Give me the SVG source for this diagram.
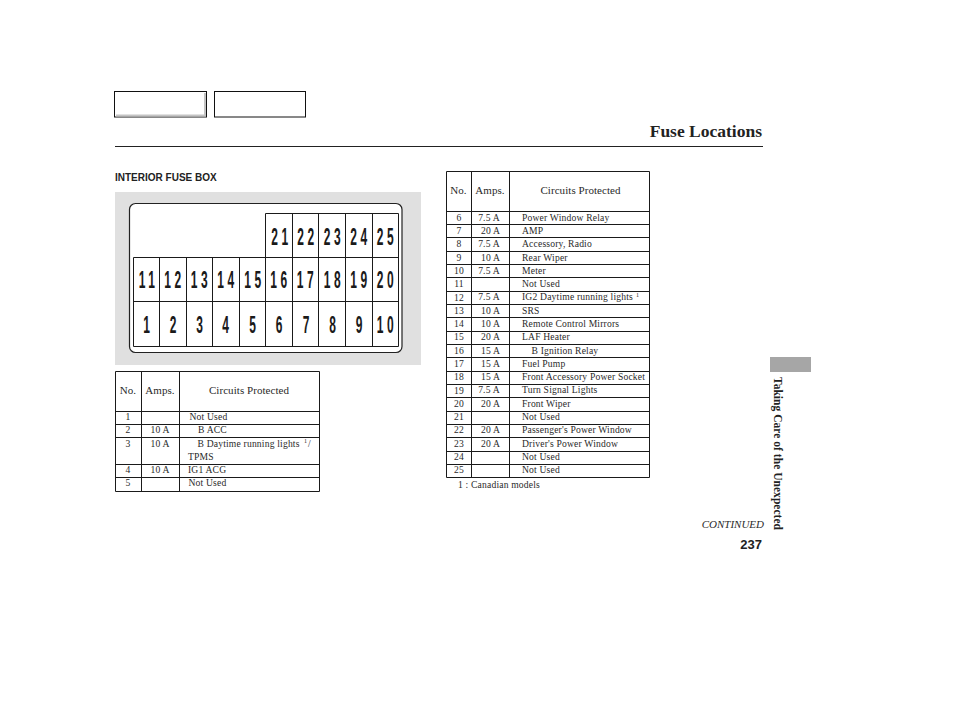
<svg xmlns="http://www.w3.org/2000/svg" width="954" height="710" viewBox="0 0 954 710">
<style>
text{font-family:"Liberation Serif",serif;fill:#2a2a2a}
.c{font-size:9.6px;letter-spacing:.18px}
.m{text-anchor:middle}
.h{font-size:11px;letter-spacing:.05px}
.s{font-size:6px}
.g{fill:none;stroke:#1a1a1a;stroke-width:1}
.d{font-family:"Liberation Sans",sans-serif;font-size:24px;font-weight:bold;text-anchor:middle;fill:#1a1a1a}
.w{letter-spacing:7px}
</style>
<rect width="954" height="710" fill="#fff"/>
<g id="tabs">
<rect x="114.500" y="91.500" width="92" height="25.500" fill="#fff" stroke="#111"/>
<path d="M205 93V115.500H116" fill="none" stroke="#c4c4c4" stroke-width="2"/>
<rect x="214.500" y="91.500" width="91" height="25.500" fill="#fff" stroke="#111"/>
</g>
<g id="header">
<text x="762" y="136.500" text-anchor="end" font-size="17.500" font-weight="bold" style="fill:#222">Fuse Locations</text>
<line x1="115" y1="146.500" x2="763" y2="146.500" stroke="#222"/>
<text x="115" y="181" font-size="10" font-weight="bold" style="font-family:'Liberation Sans',sans-serif;fill:#222">INTERIOR FUSE BOX</text>
</g>
<g id="fuse-box">
<rect x="115" y="192" width="306" height="173" fill="#e0e0e0"/>
<rect x="129.500" y="203.500" width="272.500" height="149" rx="6" fill="#fff" stroke="#222" stroke-width="1.200"/>
<path class="g" d="M133.500 257.500H398.500M133.500 301.500H398.500M133.500 346.500H398.500M265.500 213.500H398.500M133.500 257.500V346.500M159.500 257.500V346.500M186.500 257.500V346.500M212.500 257.500V346.500M239.500 257.500V346.500M265.500 213.500V346.500M292.500 213.500V346.500M318.500 213.500V346.500M345.500 213.500V346.500M372.500 213.500V346.500M398.500 213.500V346.500"/>
<g id="fuse-labels">
<text class="d w" transform="translate(281.500,244.500) scale(.5,1)">21</text>
<text class="d w" transform="translate(307.500,244.500) scale(.5,1)">22</text>
<text class="d w" transform="translate(334,244.500) scale(.5,1)">23</text>
<text class="d w" transform="translate(360.500,244.500) scale(.5,1)">24</text>
<text class="d w" transform="translate(387,244.500) scale(.5,1)">25</text>
<text class="d w" transform="translate(148.500,288) scale(.5,1)">11</text>
<text class="d w" transform="translate(174.500,288) scale(.5,1)">12</text>
<text class="d w" transform="translate(201,288) scale(.5,1)">13</text>
<text class="d w" transform="translate(227.500,288) scale(.5,1)">14</text>
<text class="d w" transform="translate(254.500,288) scale(.5,1)">15</text>
<text class="d w" transform="translate(280.500,288) scale(.5,1)">16</text>
<text class="d w" transform="translate(307,288) scale(.5,1)">17</text>
<text class="d w" transform="translate(334,288) scale(.5,1)">18</text>
<text class="d w" transform="translate(360.500,288) scale(.5,1)">19</text>
<text class="d w" transform="translate(387,288) scale(.5,1)">20</text>
<text class="d" transform="translate(146.500,332.500) scale(.5,1)">1</text>
<text class="d" transform="translate(173,332.500) scale(.5,1)">2</text>
<text class="d" transform="translate(199.500,332.500) scale(.5,1)">3</text>
<text class="d" transform="translate(225.500,332.500) scale(.5,1)">4</text>
<text class="d" transform="translate(252.500,332.500) scale(.5,1)">5</text>
<text class="d" transform="translate(279,332.500) scale(.5,1)">6</text>
<text class="d" transform="translate(306,332.500) scale(.5,1)">7</text>
<text class="d" transform="translate(332.500,332.500) scale(.5,1)">8</text>
<text class="d" transform="translate(359,332.500) scale(.5,1)">9</text>
<text class="d w" transform="translate(387,332.500) scale(.5,1)">10</text>
</g>
</g>
<g id="table-1">
<path class="g" d="M115.500 371.500H319.500V491.500H115.500ZM115.500 411.500H319.500M115.500 424.500H319.500M115.500 437.500H319.500M115.500 464.500H319.500M115.500 477.500H319.500M141.500 371.500V491.500M179.500 371.500V491.500"/>
<text class="h m" x="128" y="394">No.</text>
<text class="h m" x="160" y="394">Amps.</text>
<text class="h m" x="249" y="394">Circuits Protected</text>
<text class="c m" x="128" y="420">1</text><text class="c" x="189.500" y="420">Not Used</text>
<text class="c m" x="128" y="433">2</text><text class="c m" x="160" y="433">10 A</text><text class="c" x="198" y="433">B ACC</text>
<text class="c m" x="128" y="446.500">3</text><text class="c m" x="160" y="446.500">10 A</text><text class="c" x="197.500" y="447">B Daytime running lights</text><text class="s" x="304" y="443">1</text><text class="c" x="308" y="447">/</text>
<text class="c" x="188" y="460">TPMS</text>
<text class="c m" x="128" y="473">4</text><text class="c m" x="160" y="473">10 A</text><text class="c" x="188" y="473">IG1 ACG</text>
<text class="c m" x="128" y="486">5</text><text class="c" x="188.500" y="486">Not Used</text>
</g>
<g id="table-2">
<path class="g" d="M446.500 171.500H649.500V477.500H446.500ZM446.500 211.500H649.500M446.500 224.500H649.500M446.500 237.500H649.500M446.500 251.500H649.500M446.500 264.500H649.500M446.500 277.500H649.500M446.500 291.500H649.500M446.500 304.500H649.500M446.500 317.500H649.500M446.500 331.500H649.500M446.500 344.500H649.500M446.500 357.500H649.500M446.500 371.500H649.500M446.500 384.500H649.500M446.500 397.500H649.500M446.500 411.500H649.500M446.500 424.500H649.500M446.500 437.500H649.500M446.500 451.500H649.500M446.500 464.500H649.500M471.500 171.500V477.500M509.500 171.500V477.500"/>
<text class="h m" x="458.500" y="194">No.</text>
<text class="h m" x="490" y="194">Amps.</text>
<text class="h m" x="580.500" y="194">Circuits Protected</text>
<text class="c m" x="459" y="221">6</text><text class="c m" x="489" y="220.500">7.5 A</text><text class="c" x="522" y="221">Power Window Relay</text>
<text class="c m" x="459" y="234">7</text><text class="c m" x="490.500" y="234">20 A</text><text class="c" x="522" y="234">AMP</text>
<text class="c m" x="459" y="247">8</text><text class="c m" x="489" y="247">7.5 A</text><text class="c" x="522" y="247">Accessory, Radio</text>
<text class="c m" x="459" y="261">9</text><text class="c m" x="490.500" y="261">10 A</text><text class="c" x="522" y="261">Rear Wiper</text>
<text class="c m" x="459" y="274">10</text><text class="c m" x="489" y="274">7.5 A</text><text class="c" x="522" y="274">Meter</text>
<text class="c m" x="459" y="287">11</text><text class="c" x="522" y="287">Not Used</text>
<text class="c m" x="459" y="301">12</text><text class="c m" x="489" y="300">7.5 A</text><text class="c" x="522" y="300">IG2 Daytime running lights</text><text class="s" x="636" y="297">1</text>
<text class="c m" x="459" y="314">13</text><text class="c m" x="490.500" y="314">10 A</text><text class="c" x="522" y="314">SRS</text>
<text class="c m" x="459" y="327">14</text><text class="c m" x="490.500" y="327">10 A</text><text class="c" x="522" y="327">Remote Control Mirrors</text>
<text class="c m" x="459" y="340">15</text><text class="c m" x="490.500" y="340">20 A</text><text class="c" x="522" y="340">LAF Heater</text>
<text class="c m" x="459" y="354">16</text><text class="c m" x="490.500" y="354">15 A</text><text class="c" x="531.500" y="354">B Ignition Relay</text>
<text class="c m" x="459" y="367">17</text><text class="c m" x="490.500" y="367">15 A</text><text class="c" x="522" y="367">Fuel Pump</text>
<text class="c m" x="459" y="380">18</text><text class="c m" x="490.500" y="380">15 A</text><text class="c" x="522" y="380">Front Accessory Power Socket</text>
<text class="c m" x="459" y="394">19</text><text class="c m" x="489" y="393">7.5 A</text><text class="c" x="522" y="393">Turn Signal Lights</text>
<text class="c m" x="459" y="407">20</text><text class="c m" x="490.500" y="407">20 A</text><text class="c" x="522" y="407">Front Wiper</text>
<text class="c m" x="459" y="420">21</text><text class="c" x="522" y="420">Not Used</text>
<text class="c m" x="459" y="433">22</text><text class="c m" x="490.500" y="433">20 A</text><text class="c" x="522" y="433">Passenger's Power Window</text>
<text class="c m" x="459" y="447">23</text><text class="c m" x="490.500" y="447">20 A</text><text class="c" x="522" y="447">Driver's Power Window</text>
<text class="c m" x="459" y="460">24</text><text class="c" x="522" y="460">Not Used</text>
<text class="c m" x="459" y="473">25</text><text class="c" x="522" y="473">Not Used</text>
<text class="c" x="458" y="488">1 :  Canadian models</text>
</g>
<g id="side">
<rect x="770" y="357" width="41" height="15" fill="#a6a6a6"/>
<text transform="translate(773.500,377) rotate(90)" font-size="11.500" font-weight="bold" textLength="153" style="fill:#222">Taking Care of the Unexpected</text>
<text x="764" y="527.500" text-anchor="end" font-size="11" font-style="italic">CONTINUED</text>
<text x="762" y="549" text-anchor="end" font-size="13" font-weight="bold" style="font-family:'Liberation Sans',sans-serif;fill:#222">237</text>
</g>
</svg>
